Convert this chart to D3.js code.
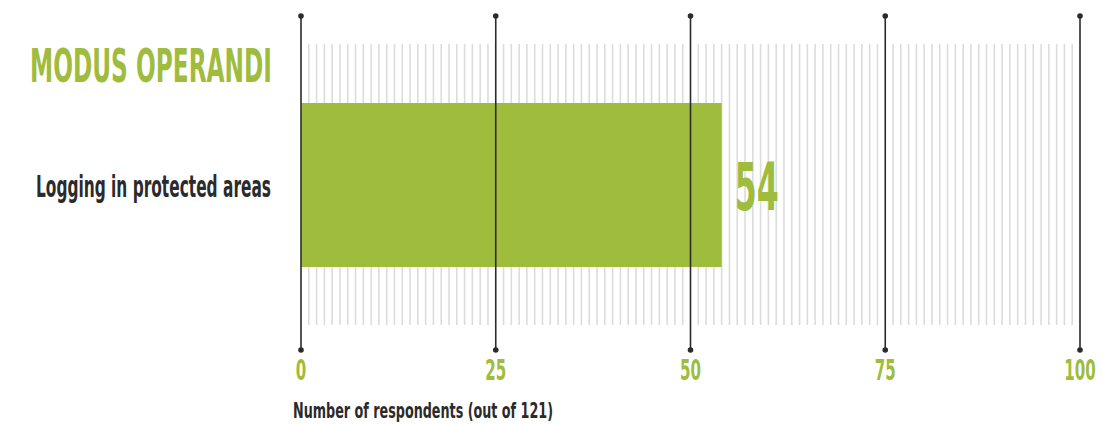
<!DOCTYPE html>
<html><head><meta charset="utf-8">
<script src="https://cdn.jsdelivr.net/npm/d3@7"></script>
<style>
html,body{margin:0;padding:0;background:#fff;}
text{font-family:"Liberation Sans Narrow","DejaVu Sans Condensed","Roboto Condensed",sans-serif;font-weight:bold;}
</style></head>
<body>
<svg id="c" width="1116" height="424"></svg>
<script>
const title = "MODUS OPERANDI";
const categories = ["Logging in protected areas"];
const values = [54];
const tickValues = [0, 25, 50, 75, 100];
const axisTitle = "Number of respondents (out of 121)";

const green = "#a0bc3d", dark = "#2b2b2b";
const svg = d3.select("#c");
const x = d3.scaleLinear().domain([0, 100]).range([301, 1080]);
const y = d3.scaleBand().domain(categories).range([103, 267]).padding(0);

// light grid
svg.append("g").selectAll("line").data(d3.range(1, 100).filter(v => v % 25 !== 0))
  .join("line")
  .attr("x1", d => x(d)).attr("x2", d => x(d))
  .attr("y1", 44).attr("y2", 325)
  .attr("stroke", "#dcdcdc").attr("stroke-width", 1.6);

// bars
svg.append("g").selectAll("rect").data(categories).join("rect")
  .attr("x", x(0)).attr("y", d => y(d))
  .attr("width", (d, i) => x(values[i]) - x(0))
  .attr("height", y.bandwidth())
  .attr("fill", green);

// major ticks
const ticks = svg.append("g").selectAll("g").data(tickValues).join("g");
ticks.append("line")
  .attr("x1", d => x(d)).attr("x2", d => x(d))
  .attr("y1", 16).attr("y2", 350)
  .attr("stroke", dark).attr("stroke-width", 1.6);
ticks.append("circle").attr("cx", d => x(d)).attr("cy", 16).attr("r", 2.8).attr("fill", dark);
ticks.append("circle").attr("cx", d => x(d)).attr("cy", 350).attr("r", 2.8).attr("fill", dark);
ticks.append("text")
  .attr("x", d => x(d)).attr("y", 380)
  .attr("text-anchor", "middle")
  .attr("font-size", 28)
  .attr("fill", green)
  .attr("textLength", d => String(d).length * 10.5)
  .attr("lengthAdjust", "spacingAndGlyphs")
  .text(d => d);

// title
svg.append("text").attr("x", 30).attr("y", 82)
  .attr("font-size", 47).attr("fill", green)
  .attr("textLength", 242).attr("lengthAdjust", "spacingAndGlyphs")
  .text(title);

// category labels
svg.append("g").selectAll("text").data(categories).join("text")
  .attr("x", 36).attr("y", d => y(d) + y.bandwidth() / 2 + 12)
  .attr("font-size", 31).attr("fill", dark)
  .attr("textLength", 235).attr("lengthAdjust", "spacingAndGlyphs")
  .text(d => d);

// value labels
svg.append("g").selectAll("text").data(values).join("text")
  .attr("x", d => x(d) + 13).attr("y", (d, i) => y(categories[i]) + y.bandwidth() / 2 + 25)
  .attr("font-size", 65).attr("fill", green)
  .attr("textLength", 44).attr("lengthAdjust", "spacingAndGlyphs")
  .text(d => d);

// axis title
svg.append("text").attr("x", 293).attr("y", 418)
  .attr("font-size", 21).attr("fill", dark)
  .attr("textLength", 260).attr("lengthAdjust", "spacingAndGlyphs")
  .text(axisTitle);
</script>
</body></html>
